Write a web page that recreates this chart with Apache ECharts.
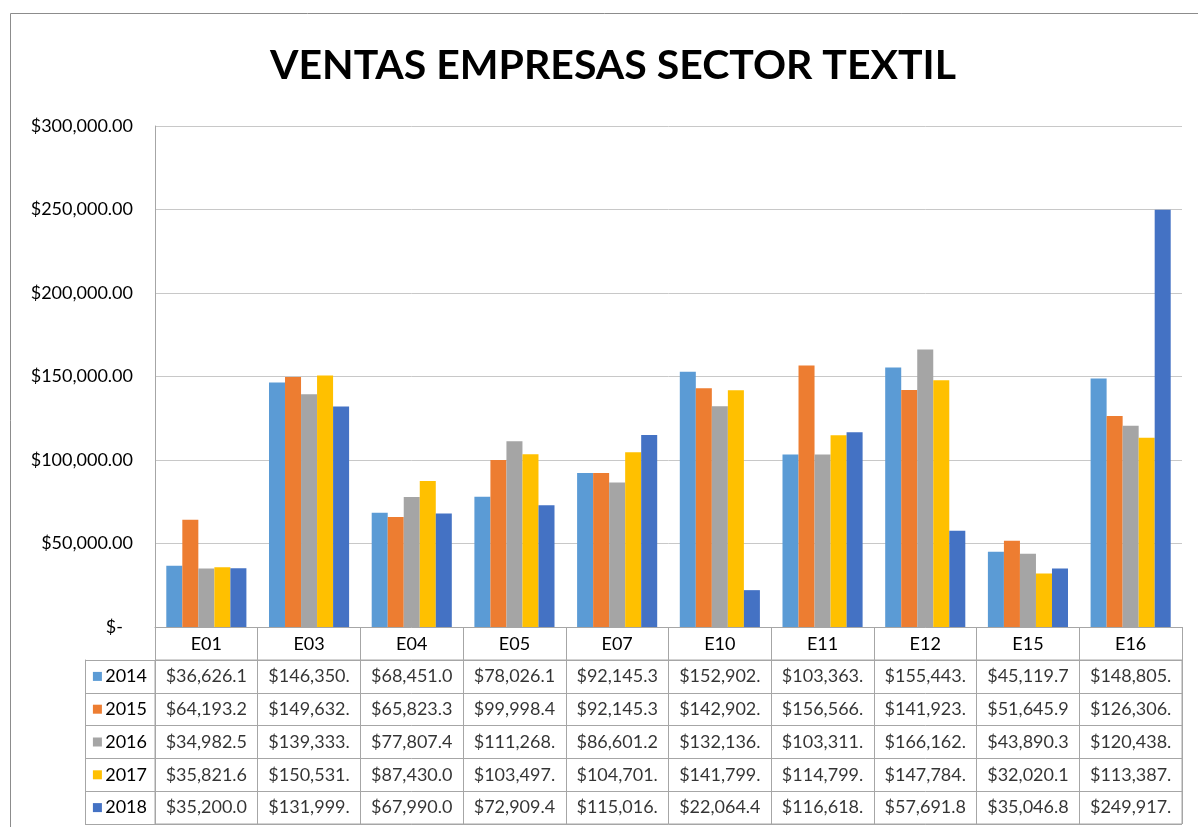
<!DOCTYPE html>
<html>
<head>
<meta charset="utf-8">
<script src="https://cdn.jsdelivr.net/npm/echarts@6/dist/echarts.min.js"></script>
<style>
html,body{margin:0;padding:0;background:#fff;}
#chart{width:1198px;height:827px;}
</style>
</head>
<body>
<div id="chart"></div>
<script>
const titleText = 'VENTAS EMPRESAS SECTOR TEXTIL';
const categories = ['E01','E03','E04','E05','E07','E10','E11','E12','E15','E16'];
const years = ['2014','2015','2016','2017','2018'];
const v2014 = [36626.1, 146350, 68451.0, 78026.1, 92145.3, 152902, 103363, 155443, 45119.7, 148805];
const v2015 = [64193.2, 149632, 65823.3, 99998.4, 92145.3, 142902, 156566, 141923, 51645.9, 126306];
const v2016 = [34982.5, 139333, 77807.4, 111268, 86601.2, 132136, 103311, 166162, 43890.3, 120438];
const v2017 = [35821.6, 150531, 87430.0, 103497, 104701, 141799, 114799, 147784, 32020.1, 113387];
const v2018 = [35200.0, 131999, 67990.0, 72909.4, 115016, 22064.4, 116618, 57691.8, 35046.8, 249917];
const yTicks = [0, 50000, 100000, 150000, 200000, 250000, 300000];
const colors = ['#5B9BD5','#ED7D31','#A5A5A5','#FFC000','#4472C4'];

const seriesValues = [v2014, v2015, v2016, v2017, v2018];
const FONT = 'Lato';
const lineColor = '#A6A6A6';
const gridColor = '#C8C8C8';

function fmtCell(v) {
  const s = '$' + v.toLocaleString('en-US', {minimumFractionDigits: 2, maximumFractionDigits: 2});
  return s.slice(0, 9);
}

const barSeries = years.map((y, i) => ({
  name: y,
  type: 'bar',
  xAxisIndex: 0,
  yAxisIndex: 0,
  data: seriesValues[i],
  itemStyle: {color: colors[i]},
  barGap: '0%',
  barCategoryGap: '22%',
  silent: true
}));

const cellData = [];
years.forEach((y, r) => {
  categories.forEach((c, ci) => {
    cellData.push([ci, r, seriesValues[r][ci]]);
  });
});

const richSquares = {t: {fontFamily: FONT, fontSize: 18, color: '#000'}};
colors.forEach((c, i) => {
  richSquares['s' + i] = {backgroundColor: c, width: 9, height: 9};
});

const chart = echarts.init(document.getElementById('chart'), null, {renderer: 'canvas'});
chart.setOption({
  animation: false,
  backgroundColor: '#fff',
  title: {
    text: titleText,
    left: 265,
    top: 40,
    textStyle: {fontFamily: FONT, fontWeight: 'bold', fontSize: 41, color: '#000'}
  },
  graphic: [{
    type: 'rect',
    shape: {x: 10.5, y: 13.5, width: 1400, height: 1000},
    style: {fill: 'none', stroke: '#8C8C8C', lineWidth: 1},
    silent: true,
    z: 100
  }],
  grid: [
    {left: 155, right: 16, top: 126, bottom: 200},
    {left: 155, right: 16, top: 660, bottom: 3, show: true, borderColor: lineColor, borderWidth: 1}
  ],
  xAxis: [
    {
      type: 'category', gridIndex: 0, data: categories,
      axisLine: {show: true, lineStyle: {color: lineColor}},
      axisTick: {show: true, alignWithLabel: false, length: 33, lineStyle: {color: lineColor}},
      axisLabel: {fontFamily: FONT, fontSize: 18, color: '#000', margin: 8, interval: 0},
      splitLine: {show: false}
    },
    {
      type: 'category', gridIndex: 1, data: categories,
      axisLine: {show: false}, axisTick: {show: false}, axisLabel: {show: false},
      splitLine: {show: true, interval: 0, lineStyle: {color: lineColor}}
    }
  ],
  yAxis: [
    {
      type: 'value', gridIndex: 0, min: 0, max: 300000, interval: 50000,
      axisLine: {show: true, lineStyle: {color: lineColor}},
      axisTick: {show: false},
      splitLine: {show: true, lineStyle: {color: gridColor}},
      axisLabel: {
        fontFamily: FONT, fontSize: 18, color: '#000', margin: 22,
        formatter: v => v === 0 ? '{z|$-}' : '$' + v.toLocaleString('en-US', {minimumFractionDigits: 2, maximumFractionDigits: 2}),
        rich: {z: {fontFamily: FONT, fontSize: 18, color: '#000', padding: [0, 10, 0, 0]}}
      }
    },
    {
      type: 'category', gridIndex: 1, data: years, inverse: true,
      axisLine: {show: true, lineStyle: {color: lineColor}},
      axisTick: {show: true, alignWithLabel: false, length: 70, lineStyle: {color: lineColor}},
      splitLine: {show: true, interval: 0, lineStyle: {color: lineColor}},
      axisLabel: {
        margin: 8, interval: 0,
        formatter: (v, i) => '{s' + i + '|} {t|' + v + '}',
        rich: richSquares
      }
    },
    {
      type: 'category', gridIndex: 1, data: years, inverse: true, position: 'left', offset: 70,
      axisLine: {show: true, lineStyle: {color: lineColor}},
      axisTick: {show: false}, axisLabel: {show: false}, splitLine: {show: false}
    }
  ],
  series: barSeries.concat([{
    type: 'scatter',
    xAxisIndex: 1,
    yAxisIndex: 1,
    symbolSize: 0,
    silent: true,
    data: cellData,
    label: {
      show: true,
      position: 'inside',
      fontFamily: FONT,
      fontSize: 18,
      color: '#000',
      formatter: p => fmtCell(p.value[2])
    }
  }])
});
</script>
</body>
</html>
